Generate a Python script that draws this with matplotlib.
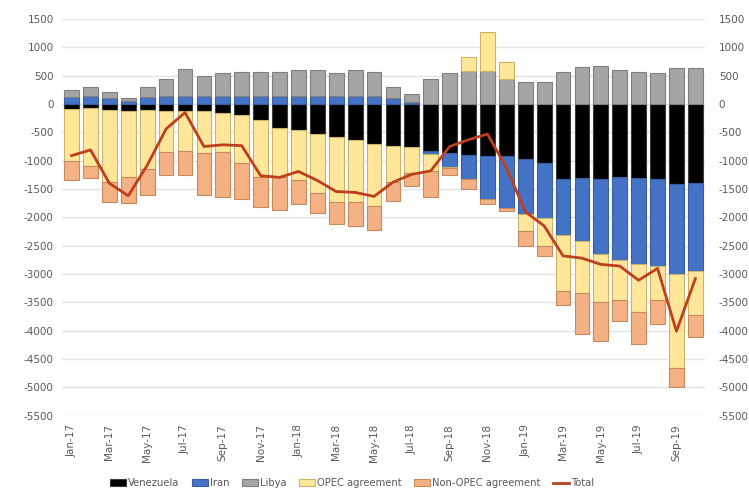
import matplotlib
matplotlib.use("Agg")
import matplotlib.pyplot as plt
import numpy as np

months = ["Jan-17", "Feb-17", "Mar-17", "Apr-17", "May-17", "Jun-17", "Jul-17", "Aug-17",
          "Sep-17", "Oct-17", "Nov-17", "Dec-17", "Jan-18", "Feb-18", "Mar-18", "Apr-18",
          "May-18", "Jun-18", "Jul-18", "Aug-18", "Sep-18", "Oct-18", "Nov-18", "Dec-18",
          "Jan-19", "Feb-19", "Mar-19", "Apr-19", "May-19", "Jun-19", "Jul-19", "Aug-19",
          "Sep-19", "Oct-19"]

venezuela = [-80, -70, -100, -120, -100, -120, -130, -130, -165, -195, -280, -425,
             -460, -530, -590, -640, -700, -735, -765, -825, -870, -900, -910, -910,
             -975, -1040, -1325, -1300, -1328, -1290, -1310, -1330, -1415, -1390]
iran = [130, 140, 110, 60, 130, 150, 150, 150, 150, 150, 150, 150,
        150, 150, 150, 150, 150, 110, 40, -65, -240, -430, -760, -920,
        -960, -970, -990, -1120, -1327, -1455, -1505, -1530, -1585, -1560]
libya = [110, 155, 95, 45, 165, 300, 460, 340, 400, 420, 410, 410,
         450, 450, 400, 450, 410, 185, 145, 440, 540, 590, 590, 440,
         385, 385, 570, 648, 665, 600, 560, 550, 640, 640]
opec = [-920, -1030, -1270, -1170, -1050, -720, -700, -740, -680, -840, -1010, -870,
        -880, -1035, -1140, -1090, -1100, -645, -445, -290, -20, 245, 680, 295,
        -310, -500, -990, -920, -840, -720, -860, -605, -1660, -770]
non_opec = [-340, -205, -360, -450, -455, -415, -425, -740, -800, -640, -530, -580,
            -430, -365, -385, -425, -430, -325, -230, -465, -115, -170, -95, -60,
            -260, -165, -250, -720, -695, -370, -555, -420, -340, -400]
total = [-910, -810, -1400, -1620, -1080, -440, -150, -750, -720, -735, -1265, -1295,
         -1190, -1350, -1545, -1560, -1630, -1380, -1240, -1180, -750, -630, -530, -1120,
         -1900, -2150, -2680, -2720, -2830, -2860, -3110, -2900, -4010, -3080]

series_names = ["Venezuela", "Iran", "Libya", "OPEC agreement", "Non-OPEC agreement"]
series_vals = [venezuela, iran, libya, opec, non_opec]
colors = ["#000000", "#4472C4", "#A5A5A5", "#FFE699", "#F4B183"]
edges = ["#3a3a3a", "#3a5fa0", "#7f7f7f", "#c9b46a", "#c58a5e"]

fig = plt.figure(figsize=(7.49, 5.0), dpi=100)
fig.patch.set_facecolor("white")
ax = fig.add_axes([0.083, 0.1686, 0.858, 0.7934])

x = np.arange(len(months))
pos_base = np.zeros(len(months))
neg_base = np.zeros(len(months))
handles = []
for name, vals, c, ec in zip(series_names, series_vals, colors, edges):
    v = np.array(vals, dtype=float)
    bottoms = np.where(v >= 0, pos_base, neg_base)
    b = ax.bar(x, v, bottom=bottoms, width=0.78, color=c, edgecolor=ec,
               linewidth=0.8, label=name, zorder=2)
    handles.append(b)
    pos_base = pos_base + np.where(v >= 0, v, 0)
    neg_base = neg_base + np.where(v < 0, v, 0)

ln, = ax.plot(x, total, color="#BE3F1E", linewidth=2.0, label="Total", zorder=3)
handles.append(ln)

ax.set_xlim(-0.5, len(months) - 0.5)
ax.set_ylim(-5500, 1500)
yt = np.arange(-5500, 1501, 500)
ax.set_yticks(yt)
ax.set_yticklabels([str(v) for v in yt], fontsize=7.5, color="#595959")
ax.yaxis.grid(True, color="#e3e3e3", linewidth=1.0, zorder=0)
ax.set_axisbelow(True)
ax.set_xticks(x[::2])
ax.set_xticklabels(months[::2], rotation=90, fontsize=7.5, color="#595959")
ax.tick_params(axis="both", length=0, pad=6)
for s in ax.spines.values():
    s.set_visible(False)

ax2 = ax.twinx()
ax2.set_ylim(-5500, 1500)
ax2.set_yticks(yt)
ax2.set_yticklabels([str(v) for v in yt], fontsize=7.5, color="#595959")
ax2.tick_params(axis="y", length=0, pad=10)
for s in ax2.spines.values():
    s.set_visible(False)

fig.legend(handles=handles, labels=series_names + ["Total"], loc="center",
           bbox_to_anchor=(0.47, 0.034), ncol=6, frameon=False, fontsize=7.2,
           handlelength=1.6, handleheight=0.7, handletextpad=0.15, columnspacing=1.3,
           labelcolor="#595959")

fig.savefig("out.png", dpi=100)
